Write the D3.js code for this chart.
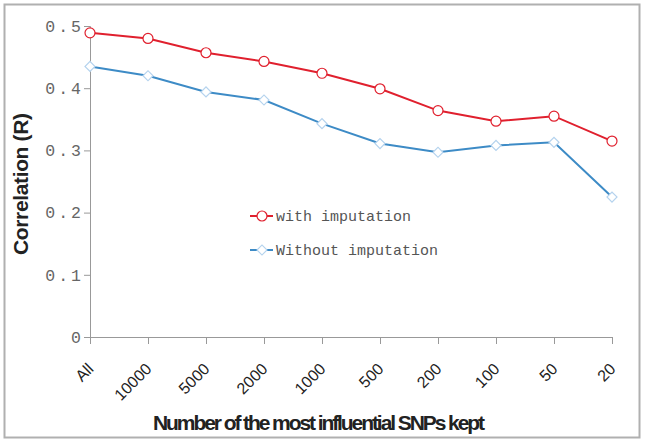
<!DOCTYPE html>
<meta charset="utf-8">
<style>
body { margin: 0; background: #fff; }
.tick text { font-family: "Liberation Mono", "DejaVu Sans Mono", monospace; }
</style>
<body>
<script src="https://d3js.org/d3.v7.min.js"></script>
<script>
// data
var categories = ["All", "10000", "5000", "2000", "1000", "500", "200", "100", "50", "20"];
var withImputation = [0.489, 0.480, 0.457, 0.443, 0.424, 0.399, 0.364, 0.347, 0.355, 0.315];
var withoutImputation = [0.435, 0.420, 0.394, 0.381, 0.343, 0.311, 0.297, 0.308, 0.313, 0.225];
var yTicks = [0, 0.1, 0.2, 0.3, 0.4, 0.5];
var seriesNames = ["with imputation", "Without imputation"];

var W = 645, H = 443;
var margin = {top: 26, right: 33, bottom: 106, left: 90},
    width = W - margin.left - margin.right,
    height = H - margin.top - margin.bottom;

var svg = d3.select("body").append("svg")
    .attr("width", W)
    .attr("height", H);

// outer frame
svg.append("rect")
    .attr("x", 4.5).attr("y", 4.5)
    .attr("width", 635).attr("height", 433)
    .attr("fill", "none")
    .attr("stroke", "#b0b0b0")
    .attr("stroke-width", 2);

var g = svg.append("g")
    .attr("transform", "translate(" + margin.left + "," + margin.top + ")");

var x = d3.scalePoint().domain(categories).range([0, width]);
var y = d3.scaleLinear().domain([0, 0.5]).range([height, 0]);

// y axis
var yAxis = g.append("g")
    .call(d3.axisLeft(y).tickValues(yTicks).tickSize(6).tickPadding(0)
      .tickFormat(function(d) { return d === 0 ? "0" : d3.format(".1f")(d); }));
yAxis.select(".domain").attr("stroke", "#999");
yAxis.selectAll(".tick line").attr("stroke", "#999");
yAxis.selectAll(".tick text")
    .attr("fill", "#666")
    .style("font-size", "16.5px")
    .style("letter-spacing", "3px");

// x axis
var xAxis = g.append("g")
    .attr("transform", "translate(0," + height + ")")
    .call(d3.axisBottom(x).tickSize(7).tickSizeOuter(0));
xAxis.select(".domain").attr("stroke", "#999");
xAxis.selectAll(".tick line").attr("stroke", "#999");
xAxis.selectAll(".tick text")
    .style("font-family", "'Liberation Sans', Arial, sans-serif")
    .style("font-size", "16px")
    .attr("fill", "#222")
    .attr("text-anchor", "end")
    .attr("x", 0).attr("y", 0).attr("dy", 0)
    .attr("transform", "translate(4,33) rotate(-45)");

// lines
var line = d3.line()
    .x(function(d, i) { return x(categories[i]); })
    .y(function(d) { return y(d); });

g.append("path")
    .datum(withoutImputation)
    .attr("fill", "none")
    .attr("stroke", "#3d8bc6")
    .attr("stroke-width", 2)
    .attr("d", line);

g.append("path")
    .datum(withImputation)
    .attr("fill", "none")
    .attr("stroke", "#e0202e")
    .attr("stroke-width", 2)
    .attr("d", line);

var diamond = d3.symbol().type(d3.symbolSquare).size(50);

g.selectAll(".dia")
    .data(withoutImputation)
  .enter().append("path")
    .attr("class", "dia")
    .attr("d", diamond)
    .attr("transform", function(d, i) {
      return "translate(" + x(categories[i]) + "," + y(d) + ") rotate(45)"; })
    .attr("fill", "#fff")
    .attr("stroke", "#b5d3ee")
    .attr("stroke-width", 1.2);

g.selectAll(".circ")
    .data(withImputation)
  .enter().append("circle")
    .attr("class", "circ")
    .attr("cx", function(d, i) { return x(categories[i]); })
    .attr("cy", function(d) { return y(d); })
    .attr("r", 5)
    .attr("fill", "#fff")
    .attr("stroke", "#e0202e")
    .attr("stroke-width", 1.2);

// legend
var legend = svg.append("g").attr("transform", "translate(250,216)");
var rows = [
  {name: seriesNames[0], color: "#e0202e", mark: "circle", stroke: "#e0202e"},
  {name: seriesNames[1], color: "#3d8bc6", mark: "diamond", stroke: "#b5d3ee"}
];
rows.forEach(function(r, i) {
  var row = legend.append("g").attr("transform", "translate(0," + (i * 34) + ")");
  row.append("line")
      .attr("x1", 0).attr("x2", 23)
      .attr("stroke", r.color).attr("stroke-width", 2);
  if (r.mark === "circle") {
    row.append("circle").attr("cx", 12).attr("r", 5)
        .attr("fill", "#fff").attr("stroke", r.stroke).attr("stroke-width", 1.2);
  } else {
    row.append("path").attr("d", diamond)
        .attr("transform", "translate(12,0) rotate(45)")
        .attr("fill", "#fff").attr("stroke", r.stroke).attr("stroke-width", 1.2);
  }
  row.append("text")
      .attr("x", 26).attr("dy", "0.35em")
      .style("font-family", "'Liberation Mono', monospace")
      .style("font-size", "15px")
      .attr("fill", "#555")
      .text(r.name);
});

// axis titles
svg.append("text")
    .attr("transform", "translate(28,184) rotate(-90)")
    .attr("text-anchor", "middle")
    .attr("textLength", 142)
    .attr("lengthAdjust", "spacing")
    .style("font-family", "'Liberation Sans', Arial, sans-serif")
    .style("font-size", "21px")
    .style("font-weight", "bold")
    .attr("fill", "#222")
    .text("Correlation (R)");

svg.append("text")
    .attr("x", 319).attr("y", 430)
    .attr("text-anchor", "middle")
    .attr("textLength", 332)
    .attr("lengthAdjust", "spacing")
    .style("font-family", "'Liberation Sans', Arial, sans-serif")
    .style("font-size", "21px")
    .style("font-weight", "bold")
    .attr("fill", "#222")
    .text("Number of the most influential SNPs kept");
</script>
</body>
